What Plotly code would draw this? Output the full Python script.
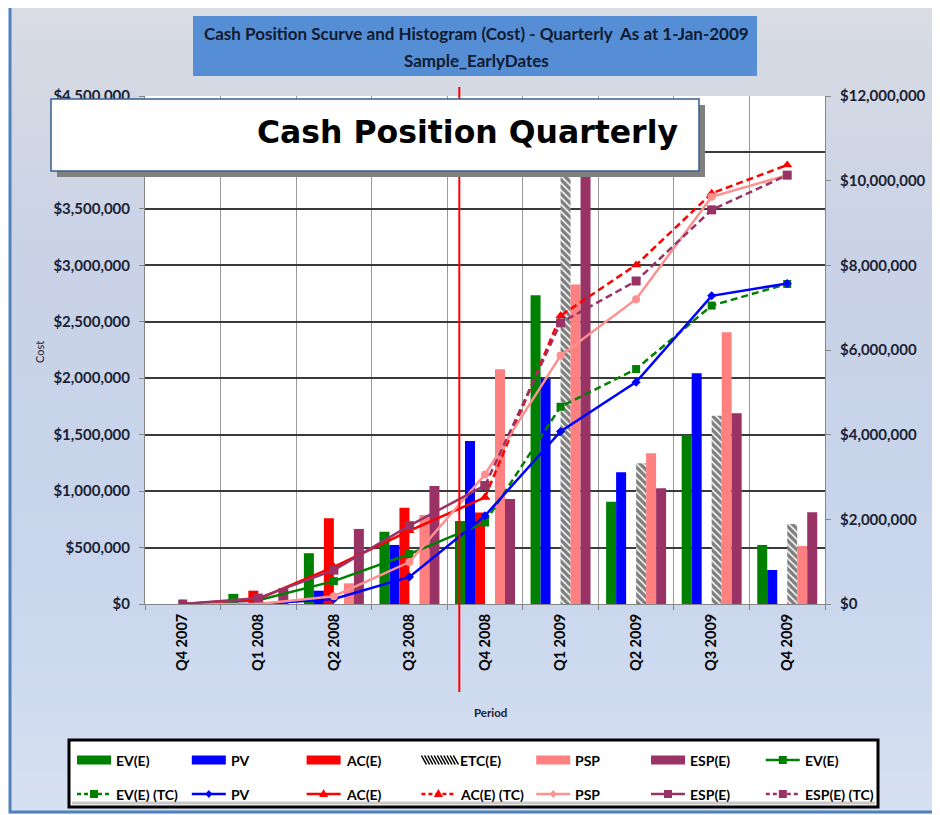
import plotly.graph_objects as go

# ---------------- data ----------------
categories = ["Q4 2007", "Q1 2008", "Q2 2008", "Q3 2008", "Q4 2008",
              "Q1 2009", "Q2 2009", "Q3 2009", "Q4 2009"]

# periodic (histogram) values, left axis
ev_bar = [None, 90000, 450000, 640000, 735000, 2735000, 905000, 1497000, 523000]
pv_bar = [None, None, 118000, 523000, 1444000, 1996000, 1166000, 2043000, 301000]
ac_bar = [None, 118000, 759000, 853000, 810000, None, None, None, None]
etc_bar = [None, None, None, None, None, 4300000, 1246000, 1668000, 709000]
psp_bar = [None, None, 183000, 788000, 2080000, 2830000, 1335000, 2407000, 514000]
esp_bar = [None, 140000, 665000, 1045000, 930000, 3830000, 1025000, 1689000, 812000]

# cumulative (S-curve) values, right axis
ev_cum = [0, 90000, 540000, 1180000, 1930000, None, None, None, None]
ev_tc = [None, None, None, None, 1930000, 4660000, 5550000, 7050000, 7560000]
pv_cum = [0, 0, 118000, 640000, 2085000, 4075000, 5240000, 7280000, 7570000]
ac_cum = [0, 118000, 877000, 1730000, 2520000, None, None, None, None]
ac_tc = [None, None, None, None, 2520000, 6810000, 8010000, 9700000, 10370000]
psp_cum = [0, 0, 185000, 990000, 3060000, 5870000, 7200000, 9620000, 10130000]
esp_cum = [0, 140000, 800000, 1850000, 2800000, None, None, None, None]
esp_tc = [None, None, None, None, 2800000, 6640000, 7630000, 9310000, 10130000]

status_pos = 3.66  # status date position on category axis

title_line1 = "Cash Position Scurve and Histogram (Cost) - Quarterly  As at 1-Jan-2009"
title_line2 = "Sample_EarlyDates"
box_title = "Cash Position Quarterly"

# ---------------- layout geometry (reference pixel frame) ----------------
OFF = 8  # page body margin
W, H = 940 - OFF, 815 - OFF
L, R, T, B = 145, 825, 96, 604


def px(x):
    return (x - L) / (R - L)


def py(y):
    return (B - y) / (B - T)


GREEN = "#008000"
BLUE = "#0000FF"
RED = "#FF0000"
PINK = "#FF8080"
MAROON = "#993366"
TXT = "#1a2233"

fig = go.Figure()

# ---------------- bars ----------------
bar_series = [
    ("EV(E)", ev_bar, GREEN),
    ("PV", pv_bar, BLUE),
    ("AC(E)", ac_bar, RED),
    ("ETC(E)", etc_bar, None),
    ("PSP", psp_bar, PINK),
    ("ESP(E)", esp_bar, MAROON),
]
for name, vals, col in bar_series:
    if col is None:
        marker = dict(color="white", line=dict(width=0),
                      pattern=dict(shape="\\", fgcolor="black", bgcolor="white",
                                   size=5, solidity=0.7))
    else:
        marker = dict(color=col, line=dict(width=0))
    fig.add_trace(go.Bar(x=categories, y=vals, name=name, marker=marker,
                         yaxis="y", showlegend=False))

# ---------------- lines ----------------
line_series = [
    ("EV(E)", ev_cum, GREEN, "solid", "square", 8),
    ("EV(E) (TC)", ev_tc, GREEN, "7px,4px", "square", 8),
    ("PV", pv_cum, BLUE, "solid", "diamond", 7),
    ("AC(E)", ac_cum, RED, "solid", "triangle-up", 9),
    ("AC(E) (TC)", ac_tc, RED, "7px,4px", "triangle-up", 9),
    ("PSP", psp_cum, "#FF9090", "solid", "circle", 8),
    ("ESP(E)", esp_cum, MAROON, "solid", "square", 9),
    ("ESP(E) (TC)", esp_tc, MAROON, "7px,4px", "square", 9),
]
for name, vals, col, dash, sym, size in line_series:
    fig.add_trace(go.Scatter(x=categories, y=vals, name=name, yaxis="y2",
                             mode="lines+markers",
                             line=dict(color=col, width=2.5, dash=dash),
                             marker=dict(symbol=sym, size=size, color=col,
                                         line=dict(width=0)),
                             showlegend=False, connectgaps=False))

# ---------------- shapes ----------------
shapes = []
stops = [(5, (217, 220, 227)), (250, (201, 210, 230)), (560, (200, 213, 236)), (813, (214, 224, 242))]
y = 5
step = 12
while y < 813:
    y2 = min(y + step, 813)
    ym = (y + y2) / 2
    for (a, ca), (b, cb) in zip(stops[:-1], stops[1:]):
        if a <= ym <= b:
            t = (ym - a) / (b - a)
            c = tuple(int(round(ca[i] + (cb[i] - ca[i]) * t)) for i in range(3))
            break
    shapes.append(dict(type="rect", xref="paper", yref="paper", layer="below",
                       x0=px(10), x1=px(935), y0=py(y), y1=py(y2 + 0.5),
                       fillcolor="rgb(%d,%d,%d)" % c, line=dict(width=0)))
    y = y2
shapes.append(dict(type="rect", xref="paper", yref="paper", layer="below",
                   x0=0, x1=1, y0=0, y1=1, fillcolor="white", line=dict(width=0)))
shapes.append(dict(type="rect", xref="paper", yref="paper", layer="below",
                   x0=px(10), x1=px(935), y0=py(5), y1=py(812),
                   fillcolor="rgba(0,0,0,0)", line=dict(color="#4F81BD", width=3)))
shapes.append(dict(type="rect", xref="paper", yref="paper", layer="below",
                   x0=px(193), x1=px(757), y0=py(16), y1=py(76),
                   fillcolor="#558ED5", line=dict(width=0)))
shapes.append(dict(type="line", xref="x", yref="paper", layer="above",
                   x0=status_pos, x1=status_pos, y0=py(692), y1=py(87),
                   line=dict(color=RED, width=2)))
shapes.append(dict(type="rect", xref="paper", yref="paper", layer="above",
                   x0=px(57), x1=px(705), y0=py(105), y1=py(177),
                   fillcolor="#808080", line=dict(width=0)))
shapes.append(dict(type="rect", xref="paper", yref="paper", layer="above",
                   x0=px(51), x1=px(699), y0=py(99), y1=py(171),
                   fillcolor="white", line=dict(color="#385D8A", width=1.5)))
shapes.append(dict(type="rect", xref="paper", yref="paper", layer="above",
                   x0=px(69), x1=px(878), y0=py(740), y1=py(807),
                   fillcolor="white", line=dict(color="black", width=3)))
shapes.append(dict(type="line", xref="paper", yref="paper", layer="above",
                   x0=px(72), x1=px(875), y0=py(803), y1=py(803),
                   line=dict(color="#C8C8C8", width=3)))

annotations = []

legend_items = [
    ("EV(E)", "bar", GREEN, None, None),
    ("PV", "bar", BLUE, None, None),
    ("AC(E)", "bar", RED, None, None),
    ("ETC(E)", "hatch", "black", None, None),
    ("PSP", "bar", PINK, None, None),
    ("ESP(E)", "bar", MAROON, None, None),
    ("EV(E)", "line", GREEN, "solid", "square"),
    ("EV(E) (TC)", "line", GREEN, "dash", "square"),
    ("PV", "line", BLUE, "solid", "diamond"),
    ("AC(E)", "line", RED, "solid", "triangle"),
    ("AC(E) (TC)", "line", RED, "dash", "triangle"),
    ("PSP", "line", "#FF9090", "solid", "diamond"),
    ("ESP(E)", "line", MAROON, "solid", "square"),
    ("ESP(E) (TC)", "line", MAROON, "dash", "square"),
]
col_x0 = 77
col_step = 114.8
row_y = [760, 794]
sw = 34
for i, (label, kind, col, dash, sym) in enumerate(legend_items):
    r, c = divmod(i, 7)
    x0 = col_x0 + c * col_step
    yc = row_y[r]
    if kind == "bar":
        shapes.append(dict(type="rect", xref="paper", yref="paper", layer="above",
                           x0=px(x0), x1=px(x0 + sw), y0=py(yc - 4.5), y1=py(yc + 4.5),
                           fillcolor=col, line=dict(width=0)))
    elif kind == "hatch":
        k = 0
        while k < sw - 1:
            shapes.append(dict(type="line", xref="paper", yref="paper", layer="above",
                               x0=px(x0 + k), x1=px(x0 + k + 5), y0=py(yc - 4.5), y1=py(yc + 4.5),
                               line=dict(color="black", width=1.5)))
            k += 3.2
    else:
        dd = "solid" if dash == "solid" else "4px,3px"
        shapes.append(dict(type="line", xref="paper", yref="paper", layer="above",
                           x0=px(x0), x1=px(x0 + sw), y0=py(yc), y1=py(yc),
                           line=dict(color=col, width=2.5, dash=dd)))
        cx = x0 + sw / 2
        if sym == "square":
            shapes.append(dict(type="rect", xref="paper", yref="paper", layer="above",
                               x0=px(cx - 4), x1=px(cx + 4), y0=py(yc - 4), y1=py(yc + 4),
                               fillcolor=col, line=dict(width=0)))
        elif sym == "diamond":
            path = "M %f,%f L %f,%f L %f,%f L %f,%f Z" % (
                px(cx), py(yc - 4), px(cx + 3.5), py(yc), px(cx), py(yc + 4), px(cx - 3.5), py(yc))
            shapes.append(dict(type="path", xref="paper", yref="paper", layer="above",
                               path=path, fillcolor=col, line=dict(width=0)))
        elif sym == "triangle":
            path = "M %f,%f L %f,%f L %f,%f Z" % (
                px(cx), py(yc - 5), px(cx + 4.5), py(yc + 3), px(cx - 4.5), py(yc + 3))
            shapes.append(dict(type="path", xref="paper", yref="paper", layer="above",
                               path=path, fillcolor=col, line=dict(width=0)))
    annotations.append(dict(xref="paper", yref="paper", x=px(x0 + sw + 3), y=py(yc),
                            xanchor="left", yanchor="middle", showarrow=False,
                            text=label,
                            font=dict(family="Lato", size=14, weight="bold", color="black")))

annotations.append(dict(xref="paper", yref="paper", x=px(476), y=py(33),
                        xanchor="center", yanchor="middle", showarrow=False,
                        text=title_line1,
                        font=dict(family="Lato", size=17, weight="bold", color="#101a30")))
annotations.append(dict(xref="paper", yref="paper", x=px(476), y=py(61),
                        xanchor="center", yanchor="middle", showarrow=False,
                        text=title_line2,
                        font=dict(family="Lato", size=17, weight="bold", color="#101a30")))
annotations.append(dict(xref="paper", yref="paper", x=px(467), y=py(132),
                        xanchor="center", yanchor="middle", showarrow=False,
                        text=box_title,
                        font=dict(family="DejaVu Sans", size=31.5, weight="bold", color="black")))
annotations.append(dict(xref="paper", yref="paper", x=px(39), y=py(352),
                        xanchor="center", yanchor="middle", showarrow=False,
                        text="Cost", textangle=-90,
                        font=dict(family="Lato", size=11, color=TXT)))
annotations.append(dict(xref="paper", yref="paper", x=px(490), y=py(712),
                        xanchor="center", yanchor="middle", showarrow=False,
                        text="Period",
                        font=dict(family="Lato", size=11.5, weight="bold", color=TXT)))

tickfont = dict(family="Lato", size=15, weight="bold", color=TXT)

fig.update_layout(
    width=W, height=H, autosize=False,
    margin=dict(l=L - OFF, r=W - (R - OFF), t=T - OFF, b=H - (B - OFF), pad=0),
    paper_bgcolor="white", plot_bgcolor="rgba(0,0,0,0)",
    barmode="group", bargap=0.206, bargroupgap=0,
    showlegend=False,
    shapes=shapes, annotations=annotations,
    xaxis=dict(type="category", tickson="boundaries", showgrid=True,
               gridcolor="#9A9A9A", gridwidth=1.2, ticks="outside", ticklen=5,
               tickcolor="#868686", showline=True, linecolor="#868686", linewidth=1,
               tickangle=-90, ticklabelstandoff=3,
               tickfont=dict(family="Lato", size=14.5, weight="bold", color="black"),
               range=[-0.5, 8.5]),
    yaxis=dict(range=[0, 4500000], dtick=500000, tickprefix="$", tickformat=",d",
               showgrid=True, gridcolor="#3A3A3A", gridwidth=1.6, zeroline=False,
               ticks="outside", ticklen=5, tickcolor="#868686",
               showline=True, linecolor="#868686", linewidth=1,
               tickfont=tickfont, ticklabelstandoff=6),
    yaxis2=dict(range=[0, 12000000], dtick=2000000, tickprefix="$", tickformat=",d",
                overlaying="y", side="right", showgrid=False, zeroline=False,
                ticks="outside", ticklen=5, tickcolor="#868686",
                showline=True, linecolor="#868686", linewidth=1,
                tickfont=tickfont, ticklabelstandoff=6),
)

fig.write_html("out.html")
